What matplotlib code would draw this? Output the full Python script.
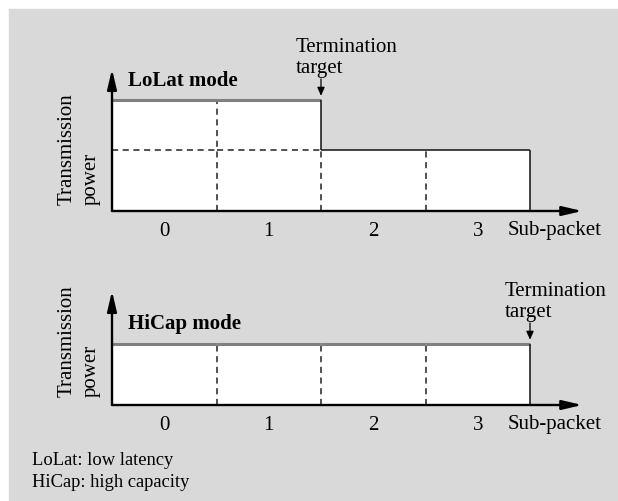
import matplotlib
matplotlib.use('Agg')
import matplotlib.pyplot as plt
from matplotlib.patches import Rectangle

plt.rcParams['font.family'] = ['Liberation Serif', 'DejaVu Serif']

# data
subpackets = [0, 1, 2, 3]
tick_labels = ['0', '1', '2', '3']
lolat_power = [1.0, 1.0, 0.55, 0.55]
hicap_power = [0.55, 0.55, 0.55, 0.55]
lolat_target = 1
hicap_target = 3
mode_titles = ['LoLat mode', 'HiCap mode']
footnote = 'LoLat: low latency\nHiCap: high capacity'

W, H = 618, 502
BG = '#d9d9d9'
GRAY = '#808080'
DARK = '#222222'


def rect(left, top, right, bottom):
    return [left / W, 1 - bottom / H, (right - left) / W, (bottom - top) / H]


def draw_mode(ax, power, target, title, ymax):
    ax.set_xlim(-0.5, 4.0)
    ax.set_ylim(0, ymax)
    for s in ax.spines.values():
        s.set_visible(False)
    ax.set_yticks([])
    ax.set_xticks(subpackets)
    ax.set_xticklabels(tick_labels, fontsize=15)
    ax.tick_params(axis='x', length=0, pad=7)
    ax.patch.set_alpha(0)

    ax.bar(subpackets, power, width=1, color='white', zorder=1)
    low = min(power)
    n = len(power)
    for i in range(n):
        # top edge of each sub-packet
        if i <= target:
            ax.hlines(power[i], i - 0.5, i + 0.5, color=GRAY, lw=2.2, zorder=3)
        else:
            ax.hlines(power[i], i - 0.5, i + 0.5, color=DARK, lw=1.2, zorder=3)
        if power[i] > low:
            ax.hlines(low, i - 0.5, i + 0.5, color=DARK, lw=1.1,
                      linestyle=(0, (4, 3)), zorder=2)
    # boundaries between sub-packets
    for i in range(n - 1):
        lo = min(power[i], power[i + 1])
        hi = max(power[i], power[i + 1])
        ax.vlines(i + 0.5, 0, lo, color=DARK, lw=1.1, linestyle=(0, (4, 3)), zorder=2)
        if hi > lo:
            ax.vlines(i + 0.5, lo, hi, color=DARK, lw=1.2, zorder=3)
    ax.vlines(n - 0.5, 0, power[-1], color=DARK, lw=1.2, zorder=3)

    # axes arrows
    arrow = dict(arrowstyle='-|>,head_length=1.2,head_width=0.28', lw=1.7,
                 color='black', shrinkA=0, shrinkB=0, mutation_scale=10)
    ax.annotate('', xy=(1, 0), xytext=(0, 0), xycoords='axes fraction',
                arrowprops=arrow, zorder=5)
    ax.annotate('', xy=(0, 1), xytext=(0, 0), xycoords='axes fraction',
                arrowprops=arrow, zorder=5)

    ax.annotate('Sub-packet', xy=(3.29, 0), xytext=(0, -9), textcoords='offset pixels',
                ha='left', va='top', fontsize=15)

    # termination target
    tx = target + 0.5
    ax.annotate('', xy=(tx, power[target]), xytext=(0, 21), textcoords='offset pixels',
                arrowprops=dict(arrowstyle='-|>,head_length=0.5,head_width=0.22',
                                lw=0.9, color='black', shrinkA=0, shrinkB=3))
    ax.annotate('Termination\ntarget', xy=(tx, power[target]), xytext=(-25, 23),
                textcoords='offset pixels', ha='left', va='bottom', fontsize=15,
                linespacing=1.15)


fig = plt.figure(figsize=(W / 100, H / 100), dpi=100)
fig.patches.append(Rectangle((9 / W, 0), 1 - 9 / W, 1 - 10 / H,
                             transform=fig.transFigure, color=BG, zorder=-5))

ax1 = fig.add_axes(rect(112, 70, 582.25, 212))
draw_mode(ax1, lolat_power, lolat_target, mode_titles[0], 142 / 111)
ax1.text(-0.347, 1.18, mode_titles[0], fontsize=15, fontweight='bold',
         ha='left', va='center')

ax2 = fig.add_axes(rect(112, 292, 582.25, 406))
draw_mode(ax2, hicap_power, hicap_target, mode_titles[1], 114 / 111)
ax2.text(-0.347, 0.74, mode_titles[1], fontsize=15, fontweight='bold',
         ha='left', va='center')

for bottom in (205, 397):
    fig.text(79 / W, 1 - bottom / H, 'Transmission\npower', rotation=90,
             ha='center', va='bottom', multialignment='left', fontsize=15,
             linespacing=1.4)

fig.text(32 / W, 1 - 471.5 / H, footnote, fontsize=13.3, ha='left', va='center',
         linespacing=1.32)

fig.savefig('out.png', dpi=100)
